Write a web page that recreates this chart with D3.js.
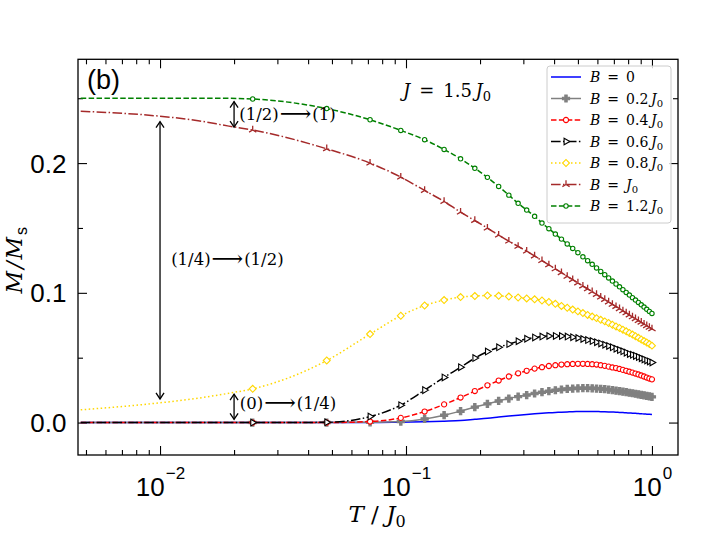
<!DOCTYPE html>
<html>
<head>
<meta charset="utf-8">
<script src="https://cdn.jsdelivr.net/npm/d3@7"></script>
<style>
  body { margin: 0; background: #fff; }
  svg { display: block; }
</style>
</head>
<body>
<svg id="chart"></svg>
<script>
/*
 *  Data
 */
// temperatures T/J0: the first four points carry no marker, markers start at T = 1/42
var temps = [0.00476, 0.00952, 0.01429, 0.01905,
  0.02381, 0.04762, 0.07143, 0.09524, 0.11905, 0.14286, 0.16667, 0.19048, 0.21429, 0.2381,
  0.2619, 0.28571, 0.30952, 0.33333, 0.35714, 0.38095, 0.40476, 0.42857, 0.45238, 0.47619,
  0.5, 0.52381, 0.54762, 0.57143, 0.59524, 0.61905, 0.64286, 0.66667, 0.69048, 0.71429,
  0.7381, 0.7619, 0.78571, 0.80952, 0.83333, 0.85714, 0.88095, 0.90476, 0.92857, 0.95238,
  0.97619, 1.0];
var markFrom = 4;

// M/Ms for each field B
var mB0 = [0, 0, 0, 0,
  0, 0, 0, 0.0003, 0.0006, 0.0011, 0.0016, 0.0025, 0.0033, 0.0042,
  0.005, 0.0057, 0.0063, 0.0068, 0.0072, 0.0075, 0.0078, 0.008, 0.0082, 0.0084,
  0.0085, 0.0086, 0.0086, 0.0086, 0.0085, 0.0084, 0.0083, 0.0082, 0.0081, 0.008,
  0.0078, 0.0077, 0.0075, 0.0074, 0.0072, 0.0071, 0.0069, 0.0068, 0.0066, 0.0065,
  0.0064, 0.0062];
var mB02 = [0, 0, 0, 0,
  0, 0, 0.0002, 0.0008, 0.0028, 0.0057, 0.0088, 0.0119, 0.0144, 0.0167,
  0.0185, 0.02, 0.0212, 0.0224, 0.0234, 0.0242, 0.0249, 0.0255, 0.0259, 0.0262,
  0.0264, 0.0265, 0.0265, 0.0264, 0.0262, 0.026, 0.0257, 0.0254, 0.025, 0.0246,
  0.0242, 0.0238, 0.0234, 0.023, 0.0226, 0.0222, 0.0218, 0.0214, 0.021, 0.0206,
  0.0202, 0.0198];
var mB04 = [0, 0, 0, 0,
  0, 0, 0.0008, 0.0036, 0.0085, 0.014, 0.0193, 0.0243, 0.0287, 0.0324,
  0.0355, 0.038, 0.0399, 0.0416, 0.0427, 0.0436, 0.0442, 0.0447, 0.045, 0.0452,
  0.0453, 0.0453, 0.0452, 0.045, 0.0447, 0.0442, 0.0437, 0.0431, 0.0425, 0.042,
  0.0413, 0.0406, 0.0399, 0.0392, 0.0385, 0.0378, 0.0371, 0.0363, 0.0355, 0.0347,
  0.0339, 0.0333];
var mB06 = [0, 0, 0, 0,
  0, 0.0002, 0.0046, 0.0134, 0.025, 0.0348, 0.0427, 0.0497, 0.0547, 0.058,
  0.0605, 0.0627, 0.0646, 0.0656, 0.0663, 0.0667, 0.0668, 0.0667, 0.0663, 0.0658,
  0.0652, 0.0644, 0.0636, 0.0628, 0.0619, 0.061, 0.06, 0.059, 0.058, 0.0569,
  0.0559, 0.0549, 0.0539, 0.0529, 0.0522, 0.0514, 0.0505, 0.0496, 0.0487, 0.0479,
  0.0471, 0.0463];
var mB08 = [0.0098, 0.0148, 0.0188, 0.0226,
  0.026, 0.0478, 0.0682, 0.0823, 0.0902, 0.0944, 0.0967, 0.0975, 0.0979, 0.0977,
  0.0971, 0.0964, 0.0957, 0.095, 0.0941, 0.0929, 0.0915, 0.0899, 0.0885, 0.0871,
  0.0857, 0.0844, 0.083, 0.0817, 0.0805, 0.0792, 0.078, 0.0767, 0.0754, 0.0741,
  0.0729, 0.0716, 0.0703, 0.069, 0.0678, 0.0666, 0.0653, 0.064, 0.0628, 0.0617,
  0.0605, 0.0593];
var mB10 = [0.24, 0.2365, 0.2327, 0.2285,
  0.2255, 0.211, 0.2, 0.1892, 0.1789, 0.1704, 0.1622, 0.1557, 0.1499, 0.1445,
  0.1398, 0.1358, 0.1321, 0.1284, 0.1248, 0.1215, 0.1184, 0.1155, 0.1127, 0.1101,
  0.1076, 0.1052, 0.103, 0.1008, 0.0987, 0.0967, 0.0948, 0.0929, 0.0911, 0.0894,
  0.0877, 0.0861, 0.0845, 0.0829, 0.0814, 0.08, 0.0786, 0.0773, 0.0759, 0.0746,
  0.0734, 0.0722];
var mB12 = [0.25, 0.25, 0.25, 0.2499,
  0.2494, 0.242, 0.2334, 0.2252, 0.218, 0.2105, 0.2033, 0.196, 0.189, 0.182,
  0.1753, 0.169, 0.1638, 0.159, 0.1538, 0.1494, 0.1453, 0.1414, 0.1377, 0.1342,
  0.1309, 0.1278, 0.1248, 0.122, 0.1192, 0.1165, 0.114, 0.1115, 0.1091, 0.1068,
  0.1046, 0.1024, 0.1003, 0.0983, 0.0963, 0.0944, 0.0926, 0.0908, 0.089, 0.0873,
  0.0857, 0.0841];

var series = [mB0, mB02, mB04, mB06, mB08, mB10, mB12];
// legend: field value written in front of J0 ("" means just J0)
var fieldLabels = ["0", "0.2", "0.4", "0.6", "0.8", "", "1.2"];
var fieldHasJ = [false, true, true, true, true, true, true];

// ticks
var xMajor = [0.01, 0.1, 1];
var xExponents = ["\u22122", "\u22121", "0"];
var yMajor = [0, 0.1, 0.2];
var yMinor = [0.05, 0.15, 0.25];

// annotation arrows (T, from M, to M) and their labels
var arrows = [
  {t: 0.02, m1: 0.2474, m2: 0.2277},
  {t: 0.01, m1: 0.2319, m2: 0.0182},
  {t: 0.02, m1: 0.0219, m2: 0.0025}
];
var arrowLabels = [
  {t: 0.0210, m: 0.2333, a: "(1/2)", b: "(1)"},
  {t: 0.0111, m: 0.1215, a: "(1/4)", b: "(1/2)"},
  {t: 0.0211, m: 0.0105, a: "(0)", b: "(1/4)"}
];

/*
 *  Styles
 */
var width = 717, height = 537;
var plot = {left: 78, right: 678, top: 59.3, bottom: 455};

var colors = ["#0000ff", "#808080", "#ff0000", "#000000", "#ffd700", "#a52a2a", "#008000"];
var dashes = [null, null, "5.5,2.4", "9.6,2.4,1.5,2.4", "1.5,2.5", "9.6,2.4,1.5,2.4", "5.5,2.4"];
var markerKinds = [null, "plus", "circle", "triangle", "diamond", "tri", "circle"];
var markerSizes = [0, 28, 21, 19, 24, 4.2, 15];

var mathFont = "'DejaVu Serif', serif";
var sansFont = "'Liberation Sans', Arial, sans-serif";

var svg = d3.select("#chart")
  .attr("width", width)
  .attr("height", height);

var x = d3.scaleLog().domain([0.00464, 1.276]).range([plot.left, plot.right]);
var y = d3.scaleLinear().domain([-0.025, 0.28]).range([plot.bottom, plot.top]);

svg.append("clipPath").attr("id", "clip")
  .append("rect")
  .attr("x", plot.left).attr("y", plot.top)
  .attr("width", plot.right - plot.left)
  .attr("height", plot.bottom - plot.top);

/*
 *  Axes (ticks point inward on all four sides)
 */
var xMinor = [];
[0.001, 0.01, 0.1].forEach(function(dec) {
  for (var k = 2; k <= 9; k++) {
    var v = +(k * dec).toPrecision(3);
    if (v > x.domain()[0] && v < x.domain()[1]) xMinor.push(v);
  }
});

function tickGroup(axis, tx, ty) {
  var g = svg.append("g")
    .attr("transform", "translate(" + tx + "," + ty + ")")
    .call(axis);
  g.select(".domain").remove();
  g.selectAll(".tick line").attr("stroke", "#000").attr("stroke-width", 1.1);
  return g;
}

tickGroup(d3.axisBottom(x).tickValues(xMinor).tickSizeInner(-5).tickSizeOuter(0).tickFormat(""), 0, plot.bottom);
tickGroup(d3.axisTop(x).tickValues(xMinor).tickSizeInner(-5).tickSizeOuter(0).tickFormat(""), 0, plot.top);
tickGroup(d3.axisTop(x).tickValues(xMajor).tickSizeInner(-9).tickSizeOuter(0).tickFormat(""), 0, plot.top);
tickGroup(d3.axisLeft(y).tickValues(yMinor).tickSizeInner(-5).tickSizeOuter(0).tickFormat(""), plot.left, 0);
tickGroup(d3.axisRight(y).tickValues(yMinor).tickSizeInner(-5).tickSizeOuter(0).tickFormat(""), plot.right, 0);
tickGroup(d3.axisRight(y).tickValues(yMajor).tickSizeInner(-9).tickSizeOuter(0).tickFormat(""), plot.right, 0);

var gx = tickGroup(d3.axisBottom(x).tickValues(xMajor).tickSizeInner(-9).tickSizeOuter(0).tickFormat(""), 0, plot.bottom);
gx.selectAll(".tick text")
  .attr("y", 40.7)
  .attr("dy", null)
  .attr("fill", "#000")
  .style("font-family", sansFont)
  .style("font-size", "26px")
  .each(function(d, i) {
    var t = d3.select(this);
    t.append("tspan").text("10");
    t.append("tspan").attr("dx", 1).attr("dy", -17).style("font-size", "17px").text(xExponents[i]);
  });

var gy = tickGroup(d3.axisLeft(y).tickValues(yMajor).tickSizeInner(-9).tickSizeOuter(0)
  .tickPadding(11.5).tickFormat(d3.format(".1f")), plot.left, 0);
gy.selectAll(".tick text")
  .attr("fill", "#000")
  .attr("dy", "0.35em")
  .style("font-family", sansFont)
  .style("font-size", "26px");

/*
 *  Curves
 */
var line = d3.line()
  .x(function(d) { return x(d.t); })
  .y(function(d) { return y(d.m); })
  .curve(d3.curveMonotoneX);

function markerShape(kind, size) {
  if (kind == "plus") return d3.symbol(d3.symbolCross, size)();
  if (kind == "circle") return d3.symbol(d3.symbolCircle, size)();
  if (kind == "triangle") return d3.symbol(d3.symbolTriangle, size)();
  if (kind == "diamond") return d3.symbol(d3.symbolSquare, size)();
  if (kind == "tri") {
    var r = size;
    return "M0,0V" + (-r) + "M0,0L" + (-0.866 * r) + "," + (0.5 * r) +
      "M0,0L" + (0.866 * r) + "," + (0.5 * r);
  }
  return null;
}
function markerRotate(kind) {
  if (kind == "triangle") return 90;
  if (kind == "diamond") return 45;
  return 0;
}
function drawMarker(g, i, px, py) {
  var kind = markerKinds[i];
  if (!kind) return;
  var filled = (kind == "plus");
  g.append("path")
    .attr("d", markerShape(kind, markerSizes[i]))
    .attr("transform", "translate(" + px + "," + py + ") rotate(" + markerRotate(kind) + ")")
    .attr("fill", kind == "tri" ? "none" : (filled ? colors[i] : "#fff"))
    .attr("stroke", colors[i])
    .attr("stroke-width", kind == "tri" ? 1.3 : 1.1);
}

var curves = svg.append("g").attr("clip-path", "url(#clip)");
series.forEach(function(vals, i) {
  var pts = temps.map(function(t, j) { return {t: t, m: vals[j]}; });
  var g = curves.append("g");
  g.append("path")
    .datum(pts)
    .attr("d", line)
    .attr("fill", "none")
    .attr("stroke", colors[i])
    .attr("stroke-width", 1.5)
    .attr("stroke-dasharray", dashes[i]);
  pts.slice(markFrom).forEach(function(p) {
    drawMarker(g, i, x(p.t), y(p.m));
  });
});

// frame
svg.append("rect")
  .attr("x", plot.left).attr("y", plot.top)
  .attr("width", plot.right - plot.left)
  .attr("height", plot.bottom - plot.top)
  .attr("fill", "none")
  .attr("stroke", "#000")
  .attr("stroke-width", 1.3);

/*
 *  Annotations
 */
function arrowHead(px, py, dir) {
  // open head, dir = -1 points up, +1 points down
  return "M" + (px - 4) + "," + (py - dir * 6) + "L" + px + "," + py + "L" + (px + 4) + "," + (py - dir * 6);
}
arrows.forEach(function(a) {
  var ax = x(a.t), y1 = y(a.m1), y2 = y(a.m2);
  svg.append("line")
    .attr("x1", ax).attr("x2", ax)
    .attr("y1", y1).attr("y2", y2)
    .attr("stroke", "#000").attr("stroke-width", 1.3);
  svg.append("path").attr("d", arrowHead(ax, y1, -1))
    .attr("fill", "none").attr("stroke", "#000").attr("stroke-width", 1.3);
  svg.append("path").attr("d", arrowHead(ax, y2, 1))
    .attr("fill", "none").attr("stroke", "#000").attr("stroke-width", 1.3);
});

arrowLabels.forEach(function(l) {
  var t = svg.append("text")
    .attr("x", x(l.t)).attr("y", y(l.m))
    .style("font-family", mathFont)
    .style("font-size", "16.5px");
  t.append("tspan").text(l.a);
  t.append("tspan").attr("dx", 1).attr("dy", 1).style("font-size", "22px").text("\u27F6");
  t.append("tspan").attr("dx", 1).attr("dy", -1).text(l.b);
});

// J = 1.5 J0
var jt = svg.append("text")
  .attr("x", 403).attr("y", 97)
  .style("font-family", mathFont)
  .style("font-size", "18px");
jt.append("tspan").style("font-style", "italic").text("J");
jt.append("tspan").text("\u2002=\u20021.5\u2009");
jt.append("tspan").style("font-style", "italic").text("J");
jt.append("tspan").attr("dy", 4).style("font-size", "13px").text("0");

// panel tag
svg.append("text")
  .attr("x", 87).attr("y", 89)
  .style("font-family", sansFont)
  .style("font-size", "27px")
  .text("(b)");

// axis labels
var xl = svg.append("text")
  .attr("x", (plot.left + plot.right) / 2 - 1)
  .attr("y", 521.7)
  .attr("text-anchor", "middle")
  .style("font-family", mathFont)
  .style("font-size", "23px");
xl.append("tspan").style("font-style", "italic").text("T");
xl.append("tspan").text(" / ");
xl.append("tspan").style("font-style", "italic").text("J");
xl.append("tspan").attr("dy", 5).style("font-size", "16px").text("0");

var yl = svg.append("text")
  .attr("transform", "translate(22," + ((plot.top + plot.bottom) / 2 + 2) + ") rotate(-90)")
  .attr("text-anchor", "middle")
  .style("font-family", mathFont)
  .style("font-size", "22px")
  .style("letter-spacing", "2px");
yl.append("tspan").style("font-style", "italic").text("M/M");
yl.append("tspan").attr("dy", 5).style("font-family", sansFont).style("font-size", "16px").text("s");

/*
 *  Legend
 */
var legend = svg.append("g");
legend.append("rect")
  .attr("x", 547).attr("y", 66)
  .attr("width", 124).attr("height", 157)
  .attr("rx", 3)
  .attr("fill", "#fff").attr("fill-opacity", 0.8)
  .attr("stroke", "#cccccc").attr("stroke-width", 1);

fieldLabels.forEach(function(lab, i) {
  var ly = 77 + i * 21.5;
  var g = legend.append("g");
  g.append("line")
    .attr("x1", 551).attr("x2", 581)
    .attr("y1", ly).attr("y2", ly)
    .attr("stroke", colors[i])
    .attr("stroke-width", 1.5)
    .attr("stroke-dasharray", dashes[i]);
  drawMarker(g, i, 566, ly);
  var t = g.append("text")
    .attr("x", 590).attr("y", ly + 5)
    .style("font-family", mathFont)
    .style("font-size", "14px");
  t.append("tspan").style("font-style", "italic").text("B");
  t.append("tspan").text("\u2002=\u2002" + lab + (lab ? "\u2009" : ""));
  if (fieldHasJ[i]) {
    t.append("tspan").style("font-style", "italic").text("J");
    t.append("tspan").attr("dy", 3).style("font-size", "10px").text("0");
  }
});
</script>
</body>
</html>
